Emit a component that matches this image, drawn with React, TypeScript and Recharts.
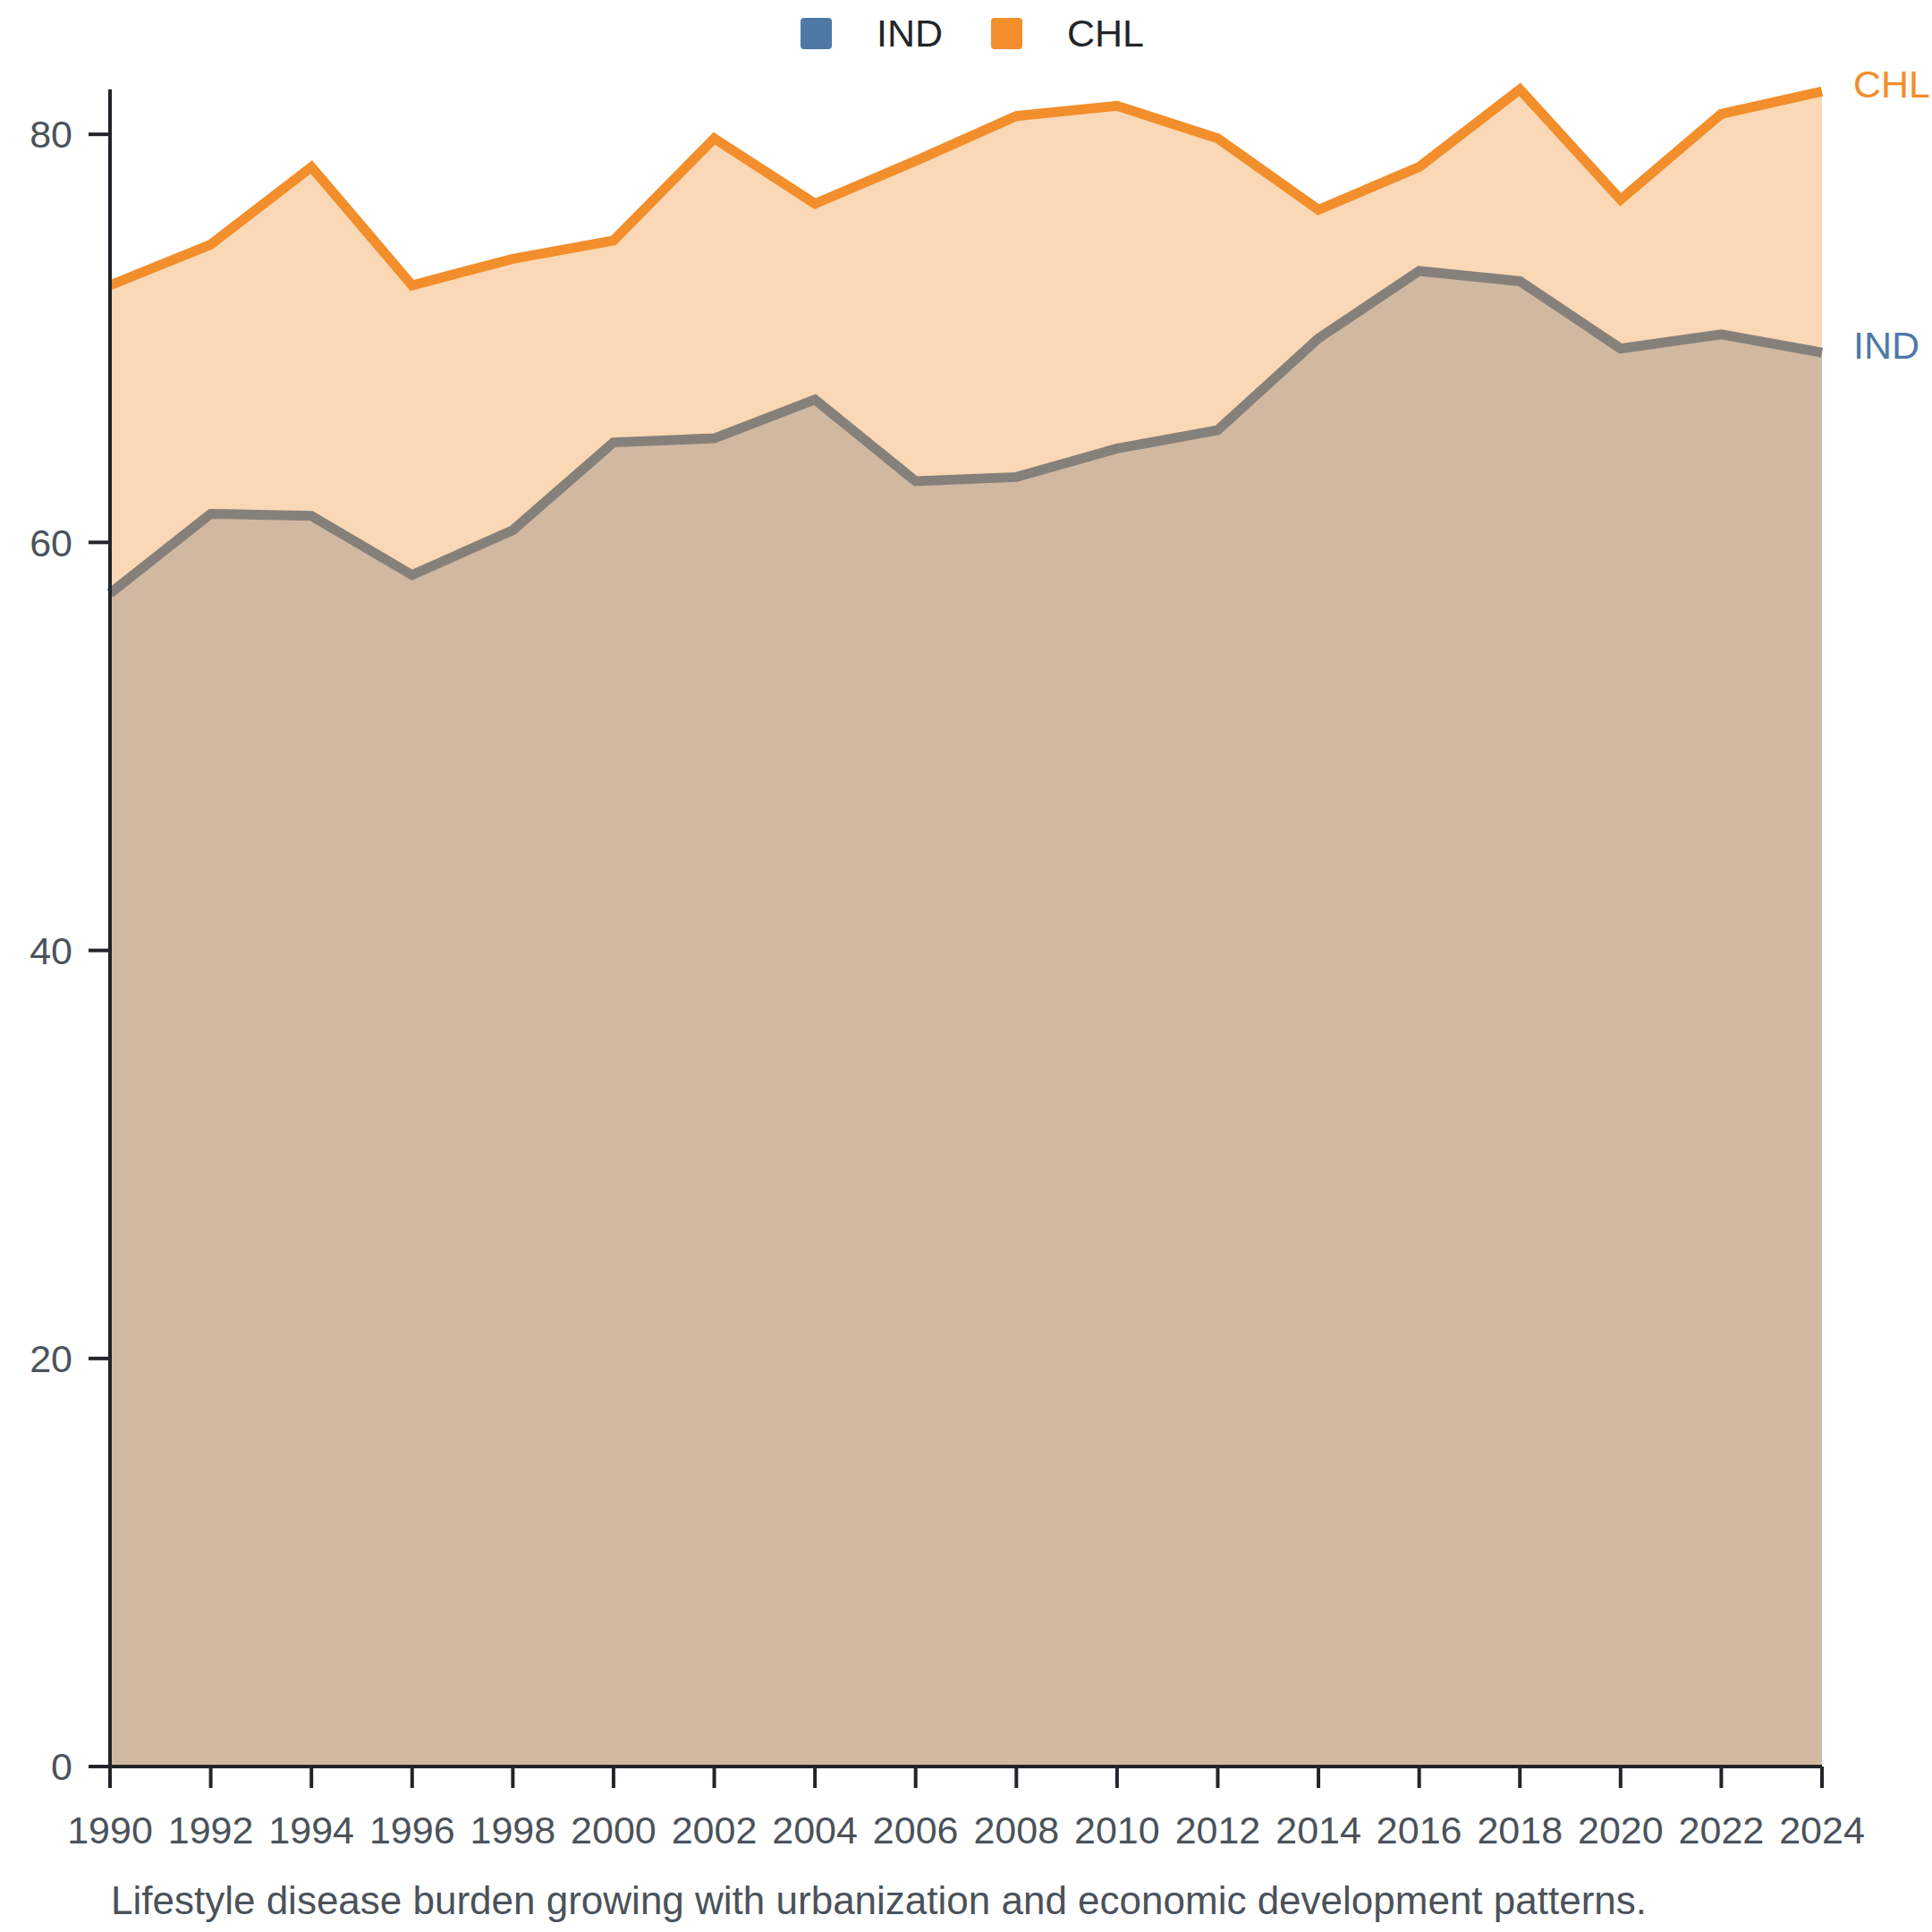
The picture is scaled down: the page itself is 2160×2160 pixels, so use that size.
import { Area, AreaChart, LabelList, Legend, XAxis, YAxis } from "recharts";

const YEARS = [
  "1990", "1992", "1994", "1996", "1998", "2000", "2002", "2004", "2006",
  "2008", "2010", "2012", "2014", "2016", "2018", "2020", "2022", "2024",
];
const IND = [
  57.5, 61.4, 61.3, 58.4, 60.6, 64.9, 65.1, 67.0, 63.0,
  63.2, 64.6, 65.5, 70.0, 73.3, 72.8, 69.5, 70.2, 69.3,
];
const CHL = [
  72.6, 74.6, 78.4, 72.6, 73.9, 74.8, 79.8, 76.6, 78.7,
  80.9, 81.4, 79.8, 76.3, 78.4, 82.2, 76.8, 81.0, 82.1,
];
const Y_TICKS = [0, 20, 40, 60, 80];

const SERIES = [
  { key: "IND", color: "#4e79a7" },
  { key: "CHL", color: "#f28e2b" },
];

const data = YEARS.map((year, i) => ({ year, IND: IND[i], CHL: CHL[i] }));

const FONT = '"Liberation Sans", Arial, Helvetica, sans-serif';
const AXIS = "#212529";
const TEXT = "#4b525a";

const endLabel = (name: string, color: string) => (props: any) => {
  if (props.index !== data.length - 1) return null;
  return (
    <text
      x={props.x + 35}
      y={props.y - 8}
      dy="0.35em"
      fill={color}
      fontSize={43}
      fontFamily={FONT}
    >
      {name}
    </text>
  );
};

const LegendBox = () => (
  <div
    style={{
      height: 100,
      display: "flex",
      justifyContent: "center",
      alignItems: "flex-start",
      paddingTop: 14,
      paddingLeft: 14,
      boxSizing: "border-box",
      fontFamily: FONT,
      fontSize: 43,
      color: AXIS,
    }}
  >
    {SERIES.map((s, i) => (
      <div
        key={s.key}
        style={{ display: "flex", alignItems: "center", marginLeft: i ? 54 : 0 }}
      >
        <span
          style={{
            width: 35,
            height: 35,
            borderRadius: 4,
            background: s.color,
            marginRight: 50,
            display: "inline-block",
          }}
        />
        <span style={{ lineHeight: "46px" }}>{s.key}</span>
      </div>
    ))}
  </div>
);

export default function App() {
  return (
    <div
      style={{
        position: "absolute",
        left: 0,
        top: 0,
        width: 2160,
        height: 2160,
        background: "#fff",
        overflow: "hidden",
      }}
    >
      <AreaChart
        width={2160}
        height={2160}
        data={data}
        margin={{ top: 0, right: 123, bottom: 85, left: 0 }}
      >
        <Legend
          verticalAlign="top"
          wrapperStyle={{ left: 0, width: 2160 }}
          content={() => <LegendBox />}
        />
        <XAxis
          dataKey="year"
          interval={0}
          tickSize={24}
          tickMargin={31}
          height={100}
          stroke={AXIS}
          strokeWidth={4}
          tick={{ fill: TEXT, fontSize: 43, fontFamily: FONT }}
        />
        <YAxis
          domain={[0, "dataMax"]}
          ticks={Y_TICKS}
          width={123}
          tickSize={24}
          tickMargin={18}
          stroke={AXIS}
          strokeWidth={4}
          tick={{ fill: TEXT, fontSize: 43, fontFamily: FONT }}
        />
        {SERIES.map((s) => (
          <Area
            key={s.key}
            type="linear"
            dataKey={s.key}
            stroke={s.color}
            strokeWidth={11}
            fill={s.color}
            fillOpacity={0.35}
            isAnimationActive={false}
            dot={false}
            activeDot={false}
          >
            <LabelList dataKey={s.key} content={endLabel(s.key, s.color)} />
          </Area>
        ))}
      </AreaChart>
      <div
        style={{
          position: "absolute",
          left: 124,
          top: 2103,
          fontFamily: FONT,
          fontSize: 44,
          lineHeight: "44px",
          color: TEXT,
          whiteSpace: "nowrap",
        }}
      >
        Lifestyle disease burden growing with urbanization and economic development patterns.
      </div>
    </div>
  );
}
